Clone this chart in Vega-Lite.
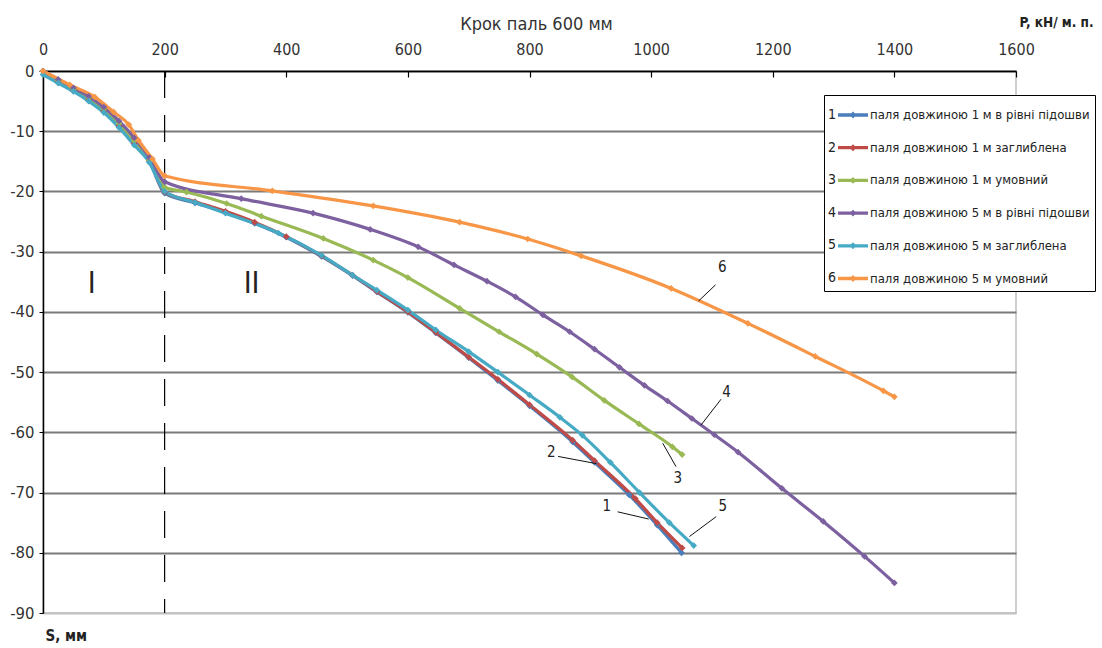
{
  "$schema": "https://vega.github.io/schema/vega-lite/v6.json",
  "width": 973,
  "height": 542,
  "autosize": {"type": "none"},
  "padding": {"left": 43, "top": 71, "right": 86, "bottom": 35},
  "background": "white",
  "config": {
    "font": "DejaVu Sans Condensed, Liberation Sans, sans-serif",
    "view": {"stroke": "#bfbfbf", "strokeWidth": 1.5}
  },
  "title": {
    "text": "Крок паль 600 мм",
    "frame": "group",
    "anchor": "middle",
    "dx": 7,
    "offset": -33,
    "baseline": "alphabetic",
    "fontSize": 18,
    "fontWeight": "normal",
    "color": "#333333"
  },
  "datasets": {
    "curves": [
      {"s": "паля довжиною 1 м в рівні підошви", "n": "1", "P": 0, "S": 0},
      {"s": "паля довжиною 1 м в рівні підошви", "n": "1", "P": 25, "S": -1.8},
      {"s": "паля довжиною 1 м в рівні підошви", "n": "1", "P": 50, "S": -3.2},
      {"s": "паля довжиною 1 м в рівні підошви", "n": "1", "P": 75, "S": -4.8},
      {"s": "паля довжиною 1 м в рівні підошви", "n": "1", "P": 100, "S": -6.7},
      {"s": "паля довжиною 1 м в рівні підошви", "n": "1", "P": 125, "S": -9.2},
      {"s": "паля довжиною 1 м в рівні підошви", "n": "1", "P": 150, "S": -12.1},
      {"s": "паля довжиною 1 м в рівні підошви", "n": "1", "P": 175, "S": -15.0},
      {"s": "паля довжиною 1 м в рівні підошви", "n": "1", "P": 200, "S": -20.3},
      {"s": "паля довжиною 1 м в рівні підошви", "n": "1", "P": 250, "S": -21.9},
      {"s": "паля довжиною 1 м в рівні підошви", "n": "1", "P": 300, "S": -23.5},
      {"s": "паля довжиною 1 м в рівні підошви", "n": "1", "P": 348, "S": -25.3},
      {"s": "паля довжиною 1 м в рівні підошви", "n": "1", "P": 400, "S": -27.6},
      {"s": "паля довжиною 1 м в рівні підошви", "n": "1", "P": 458, "S": -30.8},
      {"s": "паля довжиною 1 м в рівні підошви", "n": "1", "P": 509, "S": -34.0},
      {"s": "паля довжиною 1 м в рівні підошви", "n": "1", "P": 549, "S": -36.7},
      {"s": "паля довжиною 1 м в рівні підошви", "n": "1", "P": 600, "S": -40.1},
      {"s": "паля довжиною 1 м в рівні підошви", "n": "1", "P": 646, "S": -43.5},
      {"s": "паля довжиною 1 м в рівні підошви", "n": "1", "P": 700, "S": -47.6},
      {"s": "паля довжиною 1 м в рівні підошви", "n": "1", "P": 748, "S": -51.4},
      {"s": "паля довжиною 1 м в рівні підошви", "n": "1", "P": 800, "S": -55.6},
      {"s": "паля довжиною 1 м в рівні підошви", "n": "1", "P": 871, "S": -61.6},
      {"s": "паля довжиною 1 м в рівні підошви", "n": "1", "P": 907, "S": -65.0},
      {"s": "паля довжиною 1 м в рівні підошви", "n": "1", "P": 964, "S": -70.4},
      {"s": "паля довжиною 1 м в рівні підошви", "n": "1", "P": 1010, "S": -75.4},
      {"s": "паля довжиною 1 м в рівні підошви", "n": "1", "P": 1050, "S": -80.0},

      {"s": "паля довжиною 1 м заглиблена", "n": "2", "P": 0, "S": 0},
      {"s": "паля довжиною 1 м заглиблена", "n": "2", "P": 25, "S": -1.7},
      {"s": "паля довжиною 1 м заглиблена", "n": "2", "P": 50, "S": -3.1},
      {"s": "паля довжиною 1 м заглиблена", "n": "2", "P": 75, "S": -4.7},
      {"s": "паля довжиною 1 м заглиблена", "n": "2", "P": 100, "S": -6.6},
      {"s": "паля довжиною 1 м заглиблена", "n": "2", "P": 125, "S": -9.1},
      {"s": "паля довжиною 1 м заглиблена", "n": "2", "P": 150, "S": -12.0},
      {"s": "паля довжиною 1 м заглиблена", "n": "2", "P": 175, "S": -14.9},
      {"s": "паля довжиною 1 м заглиблена", "n": "2", "P": 200, "S": -20.1},
      {"s": "паля довжиною 1 м заглиблена", "n": "2", "P": 250, "S": -21.7},
      {"s": "паля довжиною 1 м заглиблена", "n": "2", "P": 300, "S": -23.3},
      {"s": "паля довжиною 1 м заглиблена", "n": "2", "P": 348, "S": -25.1},
      {"s": "паля довжиною 1 м заглиблена", "n": "2", "P": 400, "S": -27.5},
      {"s": "паля довжиною 1 м заглиблена", "n": "2", "P": 458, "S": -30.7},
      {"s": "паля довжиною 1 м заглиблена", "n": "2", "P": 509, "S": -33.9},
      {"s": "паля довжиною 1 м заглиблена", "n": "2", "P": 549, "S": -36.6},
      {"s": "паля довжиною 1 м заглиблена", "n": "2", "P": 600, "S": -40.0},
      {"s": "паля довжиною 1 м заглиблена", "n": "2", "P": 646, "S": -43.4},
      {"s": "паля довжиною 1 м заглиблена", "n": "2", "P": 700, "S": -47.5},
      {"s": "паля довжиною 1 м заглиблена", "n": "2", "P": 748, "S": -51.2},
      {"s": "паля довжиною 1 м заглиблена", "n": "2", "P": 800, "S": -55.4},
      {"s": "паля довжиною 1 м заглиблена", "n": "2", "P": 871, "S": -61.3},
      {"s": "паля довжиною 1 м заглиблена", "n": "2", "P": 907, "S": -64.7},
      {"s": "паля довжиною 1 м заглиблена", "n": "2", "P": 974, "S": -71.0},
      {"s": "паля довжиною 1 м заглиблена", "n": "2", "P": 1010, "S": -75.0},
      {"s": "паля довжиною 1 м заглиблена", "n": "2", "P": 1051, "S": -79.2},

      {"s": "паля довжиною 1 м умовний", "n": "3", "P": 0, "S": 0},
      {"s": "паля довжиною 1 м умовний", "n": "3", "P": 25, "S": -1.6},
      {"s": "паля довжиною 1 м умовний", "n": "3", "P": 50, "S": -3.0},
      {"s": "паля довжиною 1 м умовний", "n": "3", "P": 75, "S": -4.5},
      {"s": "паля довжиною 1 м умовний", "n": "3", "P": 100, "S": -6.3},
      {"s": "паля довжиною 1 м умовний", "n": "3", "P": 125, "S": -8.7},
      {"s": "паля довжиною 1 м умовний", "n": "3", "P": 150, "S": -11.6},
      {"s": "паля довжиною 1 м умовний", "n": "3", "P": 175, "S": -14.8},
      {"s": "паля довжиною 1 м умовний", "n": "3", "P": 200, "S": -19.3},
      {"s": "паля довжиною 1 м умовний", "n": "3", "P": 236, "S": -20.1},
      {"s": "паля довжиною 1 м умовний", "n": "3", "P": 302, "S": -22.0},
      {"s": "паля довжиною 1 м умовний", "n": "3", "P": 359, "S": -24.1},
      {"s": "паля довжиною 1 м умовний", "n": "3", "P": 461, "S": -27.8},
      {"s": "паля довжиною 1 м умовний", "n": "3", "P": 543, "S": -31.4},
      {"s": "паля довжиною 1 м умовний", "n": "3", "P": 600, "S": -34.3},
      {"s": "паля довжиною 1 м умовний", "n": "3", "P": 685, "S": -39.4},
      {"s": "паля довжиною 1 м умовний", "n": "3", "P": 750, "S": -43.3},
      {"s": "паля довжиною 1 м умовний", "n": "3", "P": 812, "S": -47.0},
      {"s": "паля довжиною 1 м умовний", "n": "3", "P": 870, "S": -50.8},
      {"s": "паля довжиною 1 м умовний", "n": "3", "P": 923, "S": -54.7},
      {"s": "паля довжиною 1 м умовний", "n": "3", "P": 980, "S": -58.6},
      {"s": "паля довжиною 1 м умовний", "n": "3", "P": 1035, "S": -62.4},
      {"s": "паля довжиною 1 м умовний", "n": "3", "P": 1051, "S": -63.7},

      {"s": "паля довжиною 5 м в рівні підошви", "n": "4", "P": 0, "S": 0},
      {"s": "паля довжиною 5 м в рівні підошви", "n": "4", "P": 25, "S": -1.4},
      {"s": "паля довжиною 5 м в рівні підошви", "n": "4", "P": 50, "S": -2.8},
      {"s": "паля довжиною 5 м в рівні підошви", "n": "4", "P": 75, "S": -4.2},
      {"s": "паля довжиною 5 м в рівні підошви", "n": "4", "P": 100, "S": -6.0},
      {"s": "паля довжиною 5 м в рівні підошви", "n": "4", "P": 125, "S": -8.3},
      {"s": "паля довжиною 5 м в рівні підошви", "n": "4", "P": 150, "S": -11.1},
      {"s": "паля довжиною 5 м в рівні підошви", "n": "4", "P": 175, "S": -14.4},
      {"s": "паля довжиною 5 м в рівні підошви", "n": "4", "P": 200, "S": -18.4},
      {"s": "паля довжиною 5 м в рівні підошви", "n": "4", "P": 326, "S": -21.2},
      {"s": "паля довжиною 5 м в рівні підошви", "n": "4", "P": 444, "S": -23.6},
      {"s": "паля довжиною 5 м в рівні підошви", "n": "4", "P": 538, "S": -26.3},
      {"s": "паля довжиною 5 м в рівні підошви", "n": "4", "P": 617, "S": -29.2},
      {"s": "паля довжиною 5 м в рівні підошви", "n": "4", "P": 676, "S": -32.2},
      {"s": "паля довжиною 5 м в рівні підошви", "n": "4", "P": 730, "S": -34.9},
      {"s": "паля довжиною 5 м в рівні підошви", "n": "4", "P": 777, "S": -37.5},
      {"s": "паля довжиною 5 м в рівні підошви", "n": "4", "P": 822, "S": -40.5},
      {"s": "паля довжиною 5 м в рівні підошви", "n": "4", "P": 866, "S": -43.3},
      {"s": "паля довжиною 5 м в рівні підошви", "n": "4", "P": 907, "S": -46.2},
      {"s": "паля довжиною 5 м в рівні підошви", "n": "4", "P": 948, "S": -49.2},
      {"s": "паля довжиною 5 м в рівні підошви", "n": "4", "P": 989, "S": -52.2},
      {"s": "паля довжиною 5 м в рівні підошви", "n": "4", "P": 1027, "S": -54.8},
      {"s": "паля довжиною 5 м в рівні підошви", "n": "4", "P": 1067, "S": -57.7},
      {"s": "паля довжиною 5 м в рівні підошви", "n": "4", "P": 1104, "S": -60.4},
      {"s": "паля довжиною 5 м в рівні підошви", "n": "4", "P": 1143, "S": -63.3},
      {"s": "паля довжиною 5 м в рівні підошви", "n": "4", "P": 1215, "S": -69.3},
      {"s": "паля довжиною 5 м в рівні підошви", "n": "4", "P": 1283, "S": -74.8},
      {"s": "паля довжиною 5 м в рівні підошви", "n": "4", "P": 1351, "S": -80.6},
      {"s": "паля довжиною 5 м в рівні підошви", "n": "4", "P": 1400, "S": -85.0},

      {"s": "паля довжиною 5 м заглиблена", "n": "5", "P": 0, "S": -0.6},
      {"s": "паля довжиною 5 м заглиблена", "n": "5", "P": 25, "S": -2.0},
      {"s": "паля довжиною 5 м заглиблена", "n": "5", "P": 50, "S": -3.4},
      {"s": "паля довжиною 5 м заглиблена", "n": "5", "P": 75, "S": -5.0},
      {"s": "паля довжиною 5 м заглиблена", "n": "5", "P": 100, "S": -6.9},
      {"s": "паля довжиною 5 м заглиблена", "n": "5", "P": 125, "S": -9.4},
      {"s": "паля довжиною 5 м заглиблена", "n": "5", "P": 150, "S": -12.3},
      {"s": "паля довжиною 5 м заглиблена", "n": "5", "P": 175, "S": -15.2},
      {"s": "паля довжиною 5 м заглиблена", "n": "5", "P": 200, "S": -20.0},
      {"s": "паля довжиною 5 м заглиблена", "n": "5", "P": 250, "S": -21.8},
      {"s": "паля довжиною 5 м заглиблена", "n": "5", "P": 300, "S": -23.6},
      {"s": "паля довжиною 5 м заглиблена", "n": "5", "P": 387, "S": -26.9},
      {"s": "паля довжиною 5 м заглиблена", "n": "5", "P": 458, "S": -30.6},
      {"s": "паля довжиною 5 м заглиблена", "n": "5", "P": 509, "S": -33.9},
      {"s": "паля довжиною 5 м заглиблена", "n": "5", "P": 549, "S": -36.4},
      {"s": "паля довжиною 5 м заглиблена", "n": "5", "P": 600, "S": -39.7},
      {"s": "паля довжиною 5 м заглиблена", "n": "5", "P": 646, "S": -43.0},
      {"s": "паля довжиною 5 м заглиблена", "n": "5", "P": 700, "S": -46.6},
      {"s": "паля довжиною 5 м заглиблена", "n": "5", "P": 748, "S": -50.0},
      {"s": "паля довжиною 5 м заглиблена", "n": "5", "P": 800, "S": -53.8},
      {"s": "паля довжиною 5 м заглиблена", "n": "5", "P": 850, "S": -57.5},
      {"s": "паля довжиною 5 м заглиблена", "n": "5", "P": 887, "S": -60.5},
      {"s": "паля довжиною 5 м заглиблена", "n": "5", "P": 933, "S": -65.0},
      {"s": "паля довжиною 5 м заглиблена", "n": "5", "P": 981, "S": -70.0},
      {"s": "паля довжиною 5 м заглиблена", "n": "5", "P": 1030, "S": -75.0},
      {"s": "паля довжиною 5 м заглиблена", "n": "5", "P": 1070, "S": -78.8},

      {"s": "паля довжиною 5 м умовний", "n": "6", "P": 0, "S": 0},
      {"s": "паля довжиною 5 м умовний", "n": "6", "P": 44, "S": -2.3},
      {"s": "паля довжиною 5 м умовний", "n": "6", "P": 85, "S": -4.3},
      {"s": "паля довжиною 5 м умовний", "n": "6", "P": 116, "S": -6.8},
      {"s": "паля довжиною 5 м умовний", "n": "6", "P": 141, "S": -8.9},
      {"s": "паля довжиною 5 м умовний", "n": "6", "P": 157, "S": -11.5},
      {"s": "паля довжиною 5 м умовний", "n": "6", "P": 180, "S": -14.6},
      {"s": "паля довжиною 5 м умовний", "n": "6", "P": 200, "S": -17.4},
      {"s": "паля довжиною 5 м умовний", "n": "6", "P": 377, "S": -19.9},
      {"s": "паля довжиною 5 м умовний", "n": "6", "P": 543, "S": -22.4},
      {"s": "паля довжиною 5 м умовний", "n": "6", "P": 685, "S": -25.1},
      {"s": "паля довжиною 5 м умовний", "n": "6", "P": 797, "S": -27.9},
      {"s": "паля довжиною 5 м умовний", "n": "6", "P": 885, "S": -30.7},
      {"s": "паля довжиною 5 м умовний", "n": "6", "P": 1033, "S": -36.1},
      {"s": "паля довжиною 5 м умовний", "n": "6", "P": 1159, "S": -41.9},
      {"s": "паля довжиною 5 м умовний", "n": "6", "P": 1270, "S": -47.4},
      {"s": "паля довжиною 5 м умовний", "n": "6", "P": 1382, "S": -53.1},
      {"s": "паля довжиною 5 м умовний", "n": "6", "P": 1400, "S": -54.1}
    ],
    "labels": [
      {"P": 927, "S": -72.3, "t": "1"},
      {"P": 836, "S": -63.3, "t": "2"},
      {"P": 1044, "S": -67.6, "t": "3"},
      {"P": 1124, "S": -53.3, "t": "4"},
      {"P": 1118, "S": -72.3, "t": "5"},
      {"P": 1117, "S": -32.5, "t": "6"}
    ],
    "leaders": [
      {"P": 945, "S": -73.2, "P2": 996, "S2": -74.4},
      {"P": 847, "S": -64.0, "P2": 910, "S2": -65.2},
      {"P": 1019, "S": -61.8, "P2": 1041, "S2": -65.7},
      {"P": 1082, "S": -58.8, "P2": 1115, "S2": -54.5},
      {"P": 1063, "S": -77.3, "P2": 1107, "S2": -74.0},
      {"P": 1078, "S": -38.2, "P2": 1106, "S2": -35.5}
    ],
    "zones": [
      {"P": 80, "S": -35.3, "t": "I"},
      {"P": 343, "S": -35.3, "t": "II"}
    ],
    "divider": [
      {"P": 200}
    ]
  },
  "encoding": {
    "x": {
      "field": "P",
      "type": "quantitative",
      "scale": {"domain": [0, 1600], "nice": false},
      "axis": {
        "orient": "top",
        "values": [0, 200, 400, 600, 800, 1000, 1200, 1400, 1600],
        "format": "d",
        "grid": false,
        "domainColor": "#000000",
        "domainWidth": 1.5,
        "tickColor": "#000000",
        "tickWidth": 1.2,
        "tickSize": -6,
        "labelPadding": 20,
        "labelFontSize": 16,
        "labelColor": "#333333",
        "labelFlush": false,
        "title": "P, кН/ м. п.",
        "titleFontSize": 13.5,
        "titleFontWeight": "bold",
        "titleColor": "#222222",
        "titleAlign": "left",
        "titleBaseline": "alphabetic",
        "titleAnchor": "start",
        "titleX": 976,
        "titleY": -45
      }
    },
    "y": {
      "field": "S",
      "type": "quantitative",
      "scale": {"domain": [-90, 0], "nice": false},
      "axis": {
        "values": [-90, -80, -70, -60, -50, -40, -30, -20, -10, 0],
        "labelExpr": "replace(datum.label, '\u2212', '-')",
        "grid": true,
        "gridColor": {"condition": {"test": "datum.value <= -90", "value": "#c0c0c0"}, "value": "#7a7a7a"},
        "gridWidth": 2,
        "domainColor": "#000000",
        "domainWidth": 1.5,
        "tickColor": "#000000",
        "tickSize": 4,
        "labelPadding": 5,
        "labelFontSize": 16.5,
        "labelColor": "#333333",
        "labelFlush": false,
        "title": "S, мм",
        "titleAngle": 0,
        "titleFontSize": 15,
        "titleFontWeight": "bold",
        "titleColor": "#222222",
        "titleAlign": "left",
        "titleBaseline": "alphabetic",
        "titleX": 2,
        "titleY": 569
      }
    }
  },
  "layer": [
    {
      "data": {"name": "divider"},
      "mark": {"type": "rule", "color": "#000000", "strokeWidth": 1.2, "strokeDash": [27, 17]},
      "encoding": {"y": null}
    },
    {
      "data": {"name": "curves"},
      "mark": {"type": "line", "strokeWidth": 3.2, "interpolate": "monotone"},
      "encoding": {
        "color": {
          "field": "s",
          "type": "nominal",
          "scale": {
            "domain": [
              "паля довжиною 1 м в рівні підошви",
              "паля довжиною 1 м заглиблена",
              "паля довжиною 1 м умовний",
              "паля довжиною 5 м в рівні підошви",
              "паля довжиною 5 м заглиблена",
              "паля довжиною 5 м умовний"
            ],
            "range": ["#4A7EBB", "#BE4B48", "#98B954", "#7D60A0", "#46AAC5", "#F79646"]
          },
          "legend": {
            "orient": "none",
            "legendX": 781,
            "legendY": 24,
            "title": null,
            "padding": 5,
            "strokeColor": "#000000",
            "fillColor": "#ffffff",
            "symbolType": "M-0.4,-0.11L1.6,-0.11L1.6,0.11L-0.4,0.11Z M0.37,0L0.6,-0.23L0.83,0L0.6,0.23Z",
            "symbolSize": 900,
            "symbolStrokeWidth": 0,
            "labelOffset": 11,
            "labelFontSize": 13,
            "labelColor": "#222222",
            "labelLimit": 400,
            "rowPadding": 10.7,
            "encode": {
              "symbols": {"update": {"fill": {"scale": "color", "field": "value"}, "opacity": {"value": 1}}}
            }
          }
        },
        "detail": {"field": "n"}
      }
    },
    {
      "data": {"name": "curves"},
      "mark": {"type": "point", "filled": true, "size": 45, "opacity": 1},
      "encoding": {
        "color": {"field": "s", "type": "nominal"},
        "shape": {
          "field": "n",
          "type": "nominal",
          "scale": {"domain": ["1", "2", "3", "4", "5", "6"], "range": ["diamond", "diamond", "diamond", "diamond", "diamond", "diamond"]},
          "legend": {
            "orient": "none",
            "legendX": 750,
            "legendY": 24,
            "title": null,
            "padding": 5,
            "symbolSize": 900,
            "symbolOpacity": 0,
            "symbolStrokeWidth": 0,
            "labelOffset": 0,
            "labelFontSize": 14,
            "labelColor": "#222222",
            "rowPadding": 2.6
          }
        }
      }
    },
    {
      "data": {"name": "leaders"},
      "mark": {"type": "rule", "color": "#111111", "strokeWidth": 1},
      "encoding": {
        "x2": {"field": "P2"},
        "y2": {"field": "S2"}
      }
    },
    {
      "data": {"name": "labels"},
      "mark": {"type": "text", "fontSize": 15, "color": "#222222", "align": "center", "baseline": "middle"},
      "encoding": {"text": {"field": "t"}}
    },
    {
      "data": {"name": "zones"},
      "mark": {"type": "text", "fontSize": 30, "color": "#222222", "align": "center", "baseline": "middle", "fontWeight": 300},
      "encoding": {"text": {"field": "t"}}
    }
  ]
}
